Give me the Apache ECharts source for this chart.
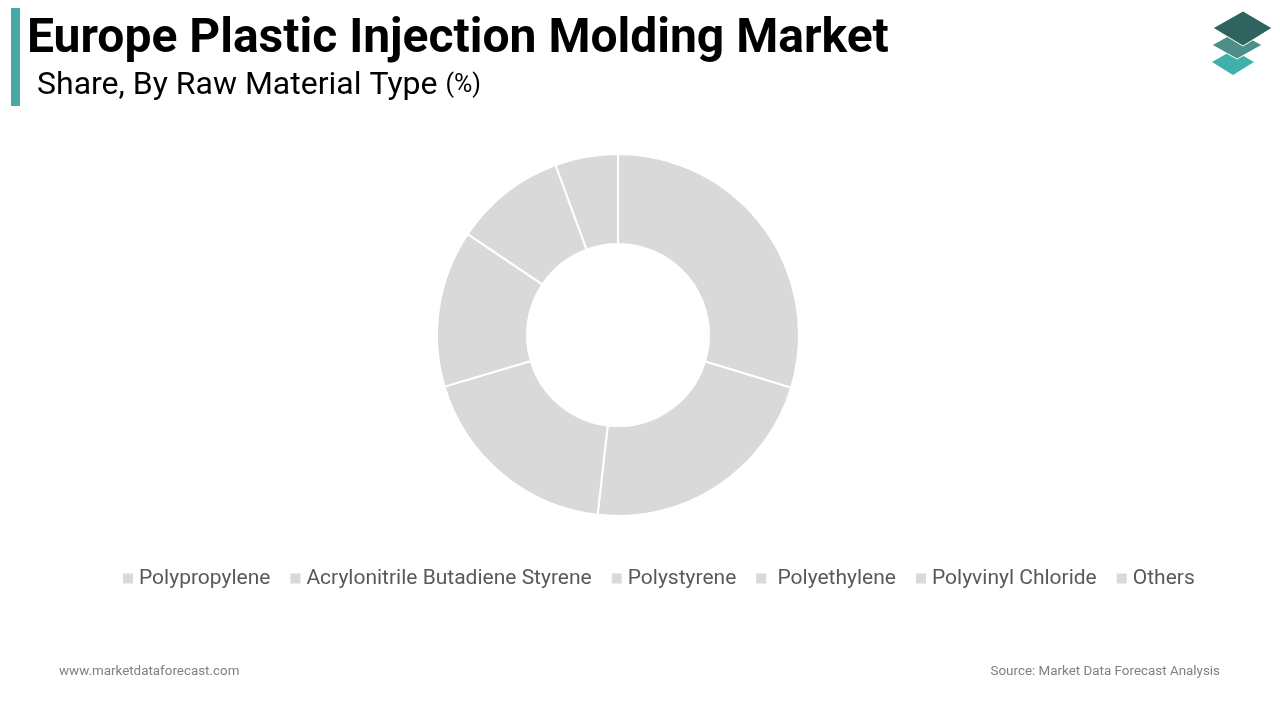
<!DOCTYPE html>
<html>
<head>
<meta charset="utf-8">
<script src="https://cdn.jsdelivr.net/npm/echarts@6/dist/echarts.min.js"></script>
<style>
html,body{margin:0;padding:0;background:#fff;}
#main{width:1280px;height:720px;}
</style>
</head>
<body>
<div id="main"></div>
<script>
const categories = ['Polypropylene', 'Acrylonitrile Butadiene Styrene', 'Polystyrene', ' Polyethylene', 'Polyvinyl Chloride', 'Others'];
const shares = [29.7, 22.1, 18.6, 14.0, 10.0, 5.6];
const sliceColor = '#d9d9d9';

const chart = echarts.init(document.getElementById('main'), null, {renderer: 'canvas'});
chart.setOption({
  backgroundColor: '#ffffff',
  animation: false,
  textStyle: {fontFamily: 'Roboto'},
  legend: {
    left: 116,
    top: 563,
    itemWidth: 12,
    itemHeight: 12,
    itemGap: 18,
    icon: 'rect',
    textStyle: {fontFamily: 'Roboto', fontSize: 21, color: '#595959'},
    data: categories
  },
  graphic: [
    {type: 'rect', shape: {x: 11, y: 8, width: 9, height: 98}, style: {fill: '#4aa9a6'}},
    {type: 'text', left: 27, top: 16, style: {text: 'Europe Plastic Injection Molding Market', font: 'bold 48px Roboto', fill: '#000'}},
    {type: 'text', left: 37, top: 70, style: {
      text: '{a|Share, By Raw Material Type }{b|(%)}',
      rich: {
        a: {fontSize: 32, fontFamily: 'Roboto', color: '#000'},
        b: {fontSize: 25, fontFamily: 'Roboto', color: '#000'}
      }
    }},
    {type: 'text', left: 59, top: 665, style: {text: 'www.marketdataforecast.com', font: '13.4px Roboto', fill: '#808080'}},
    {type: 'text', right: 60, top: 665, style: {text: 'Source: Market Data Forecast Analysis', font: '13.4px Roboto', fill: '#808080'}},
    {type: 'polygon', shape: {points: [[1212, 62], [1233, 50], [1254, 62], [1233, 75]]}, style: {fill: '#3fb0aa'}},
    {type: 'polygon', shape: {points: [[1212, 45], [1237, 31], [1262, 45], [1237, 59]]}, style: {fill: '#4b8f89', stroke: '#fff', lineWidth: 1}},
    {type: 'polygon', shape: {points: [[1213, 28], [1243, 11], [1272, 28], [1243, 46]]}, style: {fill: '#2f6360', stroke: '#fff', lineWidth: 1}}
  ],
  series: [{
    type: 'pie',
    center: [618, 335],
    radius: [91, 181],
    startAngle: 90,
    clockwise: true,
    label: {show: false},
    labelLine: {show: false},
    emphasis: {disabled: true},
    itemStyle: {color: sliceColor, borderColor: '#fff', borderWidth: 2},
    data: categories.map((c, i) => ({name: c, value: shares[i]}))
  }]
});
</script>
</body>
</html>
